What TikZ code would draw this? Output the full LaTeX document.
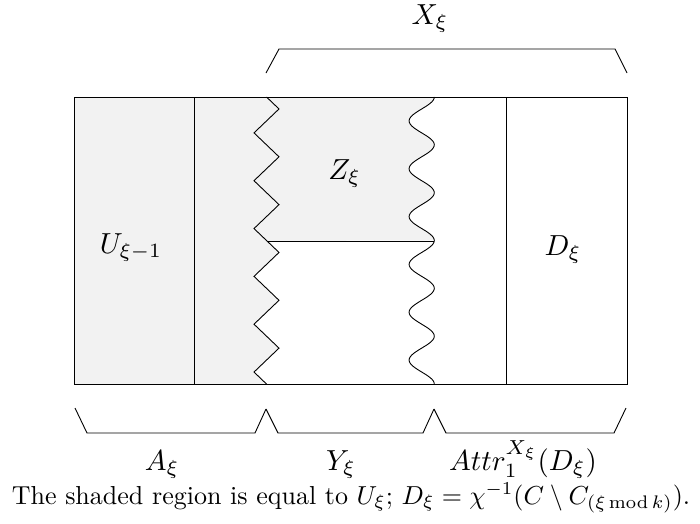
\documentclass[tikz,border=0pt]{standalone}
\usepackage{amsmath,amssymb}
\usepackage{xcolor}
\usepackage{tikz}
\usetikzlibrary{
  positioning,
  calc
}
\definecolor{shadegray}{RGB}{242,242,242}

\begin{document}
\begin{tikzpicture}[
  x=1pt, y=-1pt,
  wall/.style={draw=black, line width=0.9pt},
  shaded/.style={fill=shadegray},
  brace/.style={draw=black, line width=0.9pt, line join=miter},
  setlbl/.style={font=\normalsize, inner sep=0pt, anchor=base, scale=2.9, transform shape},
  caption/.style={font=\normalsize, inner sep=0pt, anchor=base, scale=2.6, transform shape}
]
  \useasboundingbox (0,0) rectangle (700,523);

  % corners of the box
  \coordinate (nw) at (74,97);
  \coordinate (ne) at (627,97);
  \coordinate (sw) at (74,384);
  \coordinate (se) at (627,384);

  % shaded part: U_{xi-1}, the strip up to the zigzag, and Z_xi
  \fill[shaded] (nw) -- (421.7+12.6,97)
    -- plot[domain=0:3, samples=91, smooth] ({421.7+12.6*cos(360*\x)}, {97+47.83*\x})
    -- (266.5,241)
    \foreach \j in {7,...,12} { -- ({266.5+12.5*cos(180*(\j-1))}, {97+(2*\j-1)*11.958}) }
    -- (266.5,384) -- (sw) -- cycle;

  % box and straight walls
  \draw[wall] (nw) rectangle (se);
  \draw[wall] (194,97) -- (194,384);
  \draw[wall] (506,97) -- (506,384);

  % zigzag border of Y_xi
  \draw[wall, line join=miter] (266.5,97)
    \foreach \j in {1,...,12} { -- ({266.5+12.5*cos(180*(\j-1))}, {97+(2*\j-1)*11.958}) }
    -- (266.5,384);

  % wavy border of the attractor
  \draw[wall] plot[domain=0:6, samples=181, smooth] ({421.7+12.6*cos(360*\x)}, {97+47.83*\x});

  % lower edge of Z_xi
  \draw[wall] (266.5,241) -- (434.3,241);

  % labels inside
  \node[setlbl] (u) at (131,253) {$U_{\xi-1}$};
  \node[setlbl] (z) at (344.5,179) {$Z_\xi$};
  \node[setlbl] (d) at (563,255) {$D_\xi$};

  % brace above
  \draw[brace] (266,73) -- (279,49) -- (615,49) -- (627,73);
  \node[setlbl] (x) at (430,24) {$X_\xi$};

  % braces below
  \draw[brace] (75,408) -- (87,433) -- (255,433) -- (266,409);
  \draw[brace] (266,409) -- (278,433) -- (423,433) -- (434,409);
  \draw[brace] (434,409) -- (446,433) -- (614,433) -- (626,408);
  \node[setlbl] (a) at (162,470) {$A_\xi$};
  \node[setlbl] (y) at (341,470) {$Y_\xi$};
  \node[setlbl] (attr) at (523,470) {$Attr_1^{X_\xi}(D_\xi)$};

  % caption
  \node[caption] (cap) at (351,504)
    {The shaded region is equal to $U_\xi$; $D_\xi=\chi^{-1}(C\setminus C_{(\xi\mathop{\mathrm{mod}}k)})$.};
\end{tikzpicture}
\end{document}
